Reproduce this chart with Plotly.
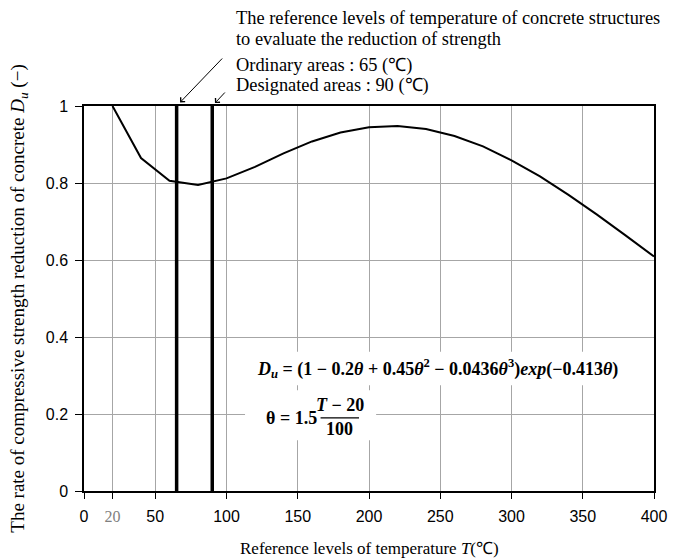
import plotly.graph_objects as go

# Data
temperature = [20, 40, 60, 80, 100, 120, 140, 160, 180, 200, 220, 240, 260, 280, 300, 320, 340, 360, 380, 400]
reduction_du = [1.0, 0.865, 0.806, 0.795, 0.812, 0.842, 0.877, 0.908, 0.931, 0.945, 0.948, 0.940, 0.922, 0.895, 0.859, 0.817, 0.769, 0.718, 0.664, 0.609]
reference_temps = [65, 90]
x_tickvals = [0, 20, 50, 100, 150, 200, 250, 300, 350, 400]
x_ticktext = ["0", "<span style='font-family:Liberation Serif;color:#808080'>20</span>", "50", "100", "150", "200", "250", "300", "350", "400"]
y_tickvals = [0, 0.2, 0.4, 0.6, 0.8, 1.0]
y_ticktext = ["0", "0.2", "0.4", "0.6", "0.8", "1"]

SERIF = "Liberation Serif"
SANS = "Liberation Sans"

fig = go.Figure()

# reference level vertical lines
for t in reference_temps:
    fig.add_trace(go.Scatter(x=[t, t], y=[0, 1], mode="lines",
                             line=dict(color="black", width=3.5),
                             showlegend=False, hoverinfo="skip"))

fig.add_trace(go.Scatter(x=temperature, y=reduction_du, mode="lines",
                         line=dict(color="black", width=2),
                         showlegend=False))

# white backgrounds of the formula text boxes
fig.add_shape(type="rect", xref="x", yref="y", x0=113, x1=385, y0=0.275, y1=0.362,
              fillcolor="white", line=dict(width=0), layer="between")
fig.add_shape(type="rect", xref="x", yref="y", x0=113, x1=205, y0=0.132, y1=0.262,
              fillcolor="white", line=dict(width=0), layer="between")
# fraction bar
fig.add_shape(type="line", xref="x", yref="y", x0=166, x1=193, y0=0.19, y1=0.19,
              line=dict(color="black", width=1.3), layer="above")

FS = 18
ann = []
ann.append(dict(xref="x", yref="y", x=248, y=0.318, showarrow=False,
                text="<b><i>D</i><sub><i>u</i></sub> = (1 − 0.2<i>θ</i> + 0.45<i>θ</i><sup>2</sup> − 0.0436<i>θ</i><sup>3</sup>)<i>exp</i>(−0.413<i>θ</i>)</b>",
                font=dict(family=SERIF, size=FS, color="black")))
ann.append(dict(xref="x", yref="y", x=165, y=0.19, xanchor="right", showarrow=False,
                text="<b>θ = 1.5</b>", font=dict(family=SERIF, size=FS, color="black")))
ann.append(dict(xref="x", yref="y", x=179.5, y=0.224, showarrow=False,
                text="<b><i>T</i> − 20</b>", font=dict(family=SERIF, size=FS, color="black")))
ann.append(dict(xref="x", yref="y", x=179.5, y=0.160, showarrow=False,
                text="<b>100</b>", font=dict(family=SERIF, size=FS, color="black")))

# Top texts
TX = (237 - 84) / 583
ann.append(dict(xref="paper", yref="paper", x=TX, y=(491-18)/385, xanchor="left", yanchor="middle",
                showarrow=False, text="The reference levels of temperature of concrete structures",
                font=dict(family=SERIF, size=18.4, color="black")))
ann.append(dict(xref="paper", yref="paper", x=TX, y=(491-39)/385, xanchor="left", yanchor="middle",
                showarrow=False, text="to evaluate the reduction of strength",
                font=dict(family=SERIF, size=18.4, color="black")))
ann.append(dict(xref="paper", yref="paper", x=TX, y=(491-65)/385, xanchor="left", yanchor="middle",
                showarrow=False, text="Ordinary areas : 65 (℃)",
                font=dict(family=SERIF, size=18.4, color="black")))
ann.append(dict(xref="paper", yref="paper", x=TX, y=(491-85)/385, xanchor="left", yanchor="middle",
                showarrow=False, text="Designated areas : 90 (℃)",
                font=dict(family=SERIF, size=18.4, color="black")))
# x-axis title
ann.append(dict(xref="paper", yref="paper", x=0.5, y=-(548-491)/385, xanchor="center", yanchor="middle",
                showarrow=False, text="Reference levels of temperature <i>T</i>(℃)",
                font=dict(family=SERIF, size=17, color="black")))
# Arrows
ann.append(dict(xref="x", yref="y", x=reference_temps[0], y=1, ax=47, ay=-49, text="",
                showarrow=True, arrowhead=4, arrowsize=1.2, arrowwidth=1, arrowcolor="black", standoff=5))
ann.append(dict(xref="x", yref="y", x=reference_temps[1], y=1, ax=14, ay=-15, text="",
                showarrow=True, arrowhead=4, arrowsize=1.2, arrowwidth=1, arrowcolor="black", standoff=4))

fig.update_layout(
    width=679, height=558,
    margin=dict(l=84, r=12, t=106, b=67),
    plot_bgcolor="white", paper_bgcolor="white",
    annotations=ann,
    xaxis=dict(range=[0, 400], tickvals=x_tickvals, ticktext=x_ticktext,
               showgrid=True, gridcolor="#a6a6a6", gridwidth=1,
               showline=True, linecolor="black", linewidth=1.5, mirror=True,
               ticks="outside", ticklen=6, tickcolor="black",
               tickfont=dict(family=SANS, size=16, color="black"),
               ticklabelstandoff=4, ticklabeloverflow="allow",
               zeroline=False),
    yaxis=dict(range=[0, 1], tickvals=y_tickvals, ticktext=y_ticktext,
               showgrid=True, gridcolor="#a6a6a6", gridwidth=1,
               showline=True, linecolor="black", linewidth=1.5, mirror=True,
               ticks="outside", ticklen=7, tickcolor="black",
               tickfont=dict(family=SANS, size=16, color="black"),
               ticklabelstandoff=4,
               zeroline=False,
               title=dict(text="The rate of compressive strength reduction of concrete <i>D<sub>u</sub></i> (−)",
                          font=dict(family=SERIF, size=19, color="black"), standoff=16)),
)

fig.write_html("out.html", config={"displayModeBar": False},
               post_script="document.body.style.margin='0';document.body.style.overflow='hidden';")
